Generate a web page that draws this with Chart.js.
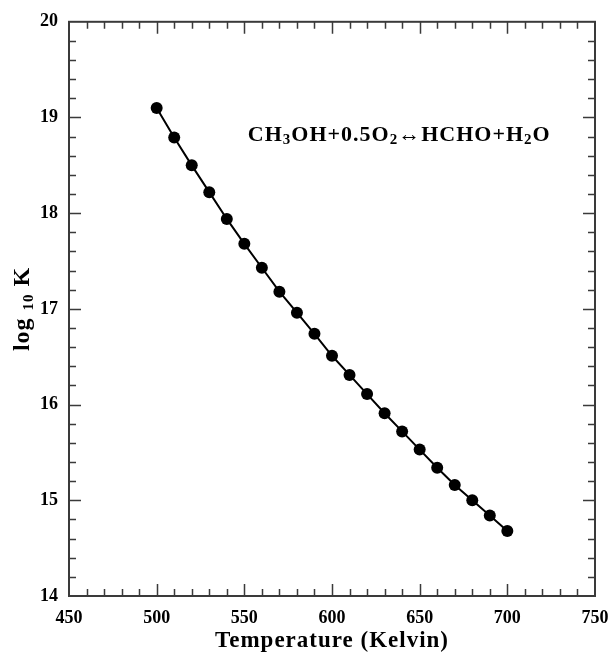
<!DOCTYPE html>
<html>
<head>
<meta charset="utf-8">
<script src="https://cdn.jsdelivr.net/npm/chart.js@4.4.1/dist/chart.umd.min.js"></script>
<style>
  html, body { margin: 0; padding: 0; background: #ffffff; }
  #wrap { width: 610px; height: 652px; }
</style>
</head>
<body>
<div id="wrap"><canvas id="logk" width="610" height="652"></canvas></div>
<script>
// Data
var temperature = [500, 510, 520, 530, 540, 550, 560, 570, 580, 590, 600,
                   610, 620, 630, 640, 650, 660, 670, 680, 690, 700];
var log10K = [19.10, 18.79, 18.50, 18.22, 17.94, 17.68, 17.43, 17.18, 16.96, 16.74, 16.51,
              16.31, 16.11, 15.91, 15.72, 15.53, 15.34, 15.16, 15.00, 14.84, 14.68];

var xRange = [450, 750];
var yRange = [14, 20];

var serif = "'Liberation Serif', 'Times New Roman', serif";
var frameColor = '#3a3a3a';

// draw a string made of [text, isSubscript] pieces
function drawPieces(ctx, pieces, x, y, big, small, drop) {
    var cx = x;
    pieces.forEach(function (p) {
        ctx.font = 'bold ' + (p[1] ? small : big) + 'px ' + serif;
        ctx.fillText(p[0], cx, p[1] ? y + drop : y);
        cx += ctx.measureText(p[0]).width;
    });
    return cx - x;
}
function piecesWidth(ctx, pieces, big, small) {
    var w = 0;
    pieces.forEach(function (p) {
        ctx.font = 'bold ' + (p[1] ? small : big) + 'px ' + serif;
        w += ctx.measureText(p[0]).width;
    });
    return w;
}

var framePlugin = {
    id: 'frame',
    afterDraw: function (chart) {
        var ctx = chart.ctx;
        var a = chart.chartArea;
        var xs = chart.scales.x, ys = chart.scales.y;
        ctx.save();
        ctx.strokeStyle = frameColor;
        ctx.lineWidth = 2;
        ctx.strokeRect(a.left, a.top, a.right - a.left, a.bottom - a.top);

        // inward tick marks on all four sides
        ctx.lineWidth = 1.5;
        ctx.beginPath();
        for (var t = xRange[0] + 10; t < xRange[1]; t += 10) {
            var px = Math.round(xs.getPixelForValue(t)) + 0.5;
            var len = (t % 50 === 0) ? 12 : 7;
            ctx.moveTo(px, a.bottom); ctx.lineTo(px, a.bottom - len);
            ctx.moveTo(px, a.top); ctx.lineTo(px, a.top + len);
        }
        for (var i = 1; i < 30; i++) {
            var v = yRange[0] + i * 0.2;
            var py = Math.round(ys.getPixelForValue(v)) + 0.5;
            var ylen = (i % 5 === 0) ? 12 : 7;
            ctx.moveTo(a.left, py); ctx.lineTo(a.left + ylen, py);
            ctx.moveTo(a.right, py); ctx.lineTo(a.right - ylen, py);
        }
        ctx.stroke();

        ctx.fillStyle = '#000000';
        ctx.textBaseline = 'alphabetic';
        ctx.textAlign = 'left';
        ctx.letterSpacing = '1px';

        // reaction label
        drawPieces(ctx, [['CH', 0], ['3', 1], ['OH+0.5O', 0], ['2', 1], ['\u2194HCHO+H', 0], ['2', 1], ['O', 0]],
            xs.getPixelForValue(552), ys.getPixelForValue(18.75), 22, 15, 3);

        // x axis title
        var xTitle = [['Temperature (Kelvin)', 0]];
        var xw = piecesWidth(ctx, xTitle, 23, 15);
        drawPieces(ctx, xTitle, (a.left + a.right) / 2 - xw / 2, 647, 23, 15, 0);

        // y axis title with subscript, rotated
        var yTitle = [['log ', 0], ['10', 1], [' K', 0]];
        var w = piecesWidth(ctx, yTitle, 24, 15);
        ctx.translate(29, (a.top + a.bottom) / 2);
        ctx.rotate(-Math.PI / 2);
        drawPieces(ctx, yTitle, -w / 2, 0, 24, 15, 4);
        ctx.restore();
    }
};

var ctx = document.getElementById('logk').getContext('2d');
var logkChart = new Chart(ctx, {
    type: 'line',
    data: {
        datasets: [{
            label: 'log10 K',
            data: temperature.map(function (t, i) { return { x: t, y: log10K[i] }; }),
            borderColor: '#000000',
            borderWidth: 2,
            backgroundColor: '#000000',
            pointBackgroundColor: '#000000',
            pointBorderColor: '#000000',
            pointRadius: 6,
            pointBorderWidth: 0,
            tension: 0
        }]
    },
    options: {
        responsive: false,
        animation: false,
        layout: { padding: { top: 19, right: 0, left: 0, bottom: 0 } },
        plugins: {
            legend: { display: false },
            tooltip: { enabled: false }
        },
        scales: {
            x: {
                type: 'linear',
                min: xRange[0],
                max: xRange[1],
                grid: { display: false, drawTicks: false },
                border: { display: false },
                ticks: {
                    stepSize: 50,
                    padding: 12,
                    color: '#000000',
                    font: { family: serif, size: 18, weight: 'bold' }
                },
                afterFit: function (scale) {
                    scale.height = 56;
                    scale.paddingLeft = 0;
                    scale.paddingRight = 15;
                }
            },
            y: {
                min: yRange[0],
                max: yRange[1],
                grid: { display: false, drawTicks: false },
                border: { display: false },
                ticks: {
                    stepSize: 1,
                    padding: 11,
                    color: '#000000',
                    font: { family: serif, size: 18, weight: 'bold' }
                },
                afterFit: function (scale) { scale.width = 69; }
            }
        }
    },
    plugins: [framePlugin]
});
</script>
</body>
</html>
